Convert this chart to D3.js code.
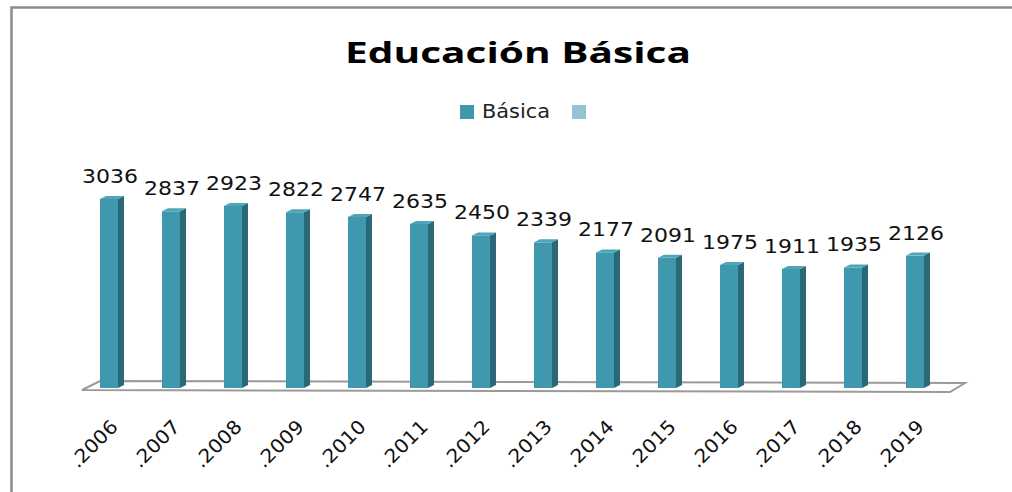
<!DOCTYPE html>
<html>
<head>
<meta charset="utf-8">
<script src="https://cdn.jsdelivr.net/npm/d3@7"></script>
<style>
  body { margin: 0; background: #fff; }
  svg { display: block; }
</style>
</head>
<body>
<div class="barChart"></div>
<script>
/* chart data */
const years = ["2006", "2007", "2008", "2009", "2010", "2011", "2012",
               "2013", "2014", "2015", "2016", "2017", "2018", "2019"];
const basica = [3036, 2837, 2923, 2822, 2747, 2635, 2450,
                2339, 2177, 2091, 1975, 1911, 1935, 2126];
const seriesNames = ["Básica", ""];
const seriesColors = ["#3f98ae", "#93c4d6"];

const width = 1012;
const height = 492;

/* 3d look of the bars */
const barW = 18;
const depthX = 6;
const depthY = 3;

const svg = d3.select(".barChart")
  .append("svg")
  .attr("width", width)
  .attr("height", height);

/* chart frame (only top and left edges are in view) */
svg.append("path")
  .attr("d", `M11.5,${height} L11.5,7.5 L${width},7.5`)
  .attr("fill", "none")
  .attr("stroke", "#8c8c8c")
  .attr("stroke-width", 2.5);

/* scales */
const xScale = d3.scalePoint()
  .domain(years)
  .range([109, 915]);

const yScale = d3.scaleLinear()
  .domain([0, 3500])
  .range([388, 170]);

/* floor */
const x0 = xScale.range()[0], x1 = xScale.range()[1];
const floorPts = [
  [x0 - 27, 390], [x0 - 9, 381], [x1 + 50, 383], [x1 + 35, 392]
];
svg.append("polygon")
  .attr("points", floorPts.map(p => p.join(",")).join(" "))
  .attr("fill", "#fff")
  .attr("stroke", "#9a9a9a")
  .attr("stroke-width", 2);

/* bars */
const data = years.map((y, i) => ({year: y, value: basica[i]}));
const base = yScale(0);

const bars = svg.append("g").selectAll("g")
  .data(data)
  .join("g");

bars.append("rect")
  .attr("x", d => xScale(d.year) - barW / 2)
  .attr("y", d => yScale(d.value))
  .attr("width", barW)
  .attr("height", d => base - yScale(d.value))
  .attr("fill", "#3f98ae");

bars.append("polygon")
  .attr("points", d => {
    const r = xScale(d.year) + barW / 2, t = yScale(d.value);
    return [[r, t], [r + depthX, t - depthY], [r + depthX, base - depthY], [r, base]]
      .map(p => p.join(",")).join(" ");
  })
  .attr("fill", "#2a6777");

bars.append("polygon")
  .attr("points", d => {
    const l = xScale(d.year) - barW / 2, r = l + barW, t = yScale(d.value);
    return [[l, t], [l + depthX, t - depthY], [r + depthX, t - depthY], [r, t]]
      .map(p => p.join(",")).join(" ");
  })
  .attr("fill", "#4ea6bb");

/* value labels (glyphs stretched wide like the original) */
svg.append("g").selectAll("text")
  .data(data)
  .join("text")
  .attr("x", d => xScale(d.year) + 1)
  .attr("y", d => yScale(d.value) - 16)
  .attr("text-anchor", "middle")
  .attr("textLength", 56)
  .attr("lengthAdjust", "spacingAndGlyphs")
  .style("font-family", "'DejaVu Sans', Verdana, sans-serif")
  .style("font-size", "19px")
  .attr("fill", "#111")
  .text(d => d.value);

/* x axis labels, rotated */
svg.append("g").selectAll("text")
  .data(years)
  .join("text")
  .attr("transform", d => `translate(${xScale(d) + 10},428) rotate(-45)`)
  .attr("text-anchor", "end")
  .attr("textLength", 58)
  .attr("lengthAdjust", "spacingAndGlyphs")
  .style("font-family", "'DejaVu Sans', Verdana, sans-serif")
  .style("font-size", "19px")
  .attr("fill", "#111")
  .text(d => "." + d);

/* title */
svg.append("text")
  .attr("x", 518)
  .attr("y", 63)
  .attr("text-anchor", "middle")
  .attr("textLength", 346)
  .attr("lengthAdjust", "spacingAndGlyphs")
  .style("font-family", "'Open Sans', sans-serif")
  .style("font-weight", "bold")
  .style("font-size", "29px")
  .attr("fill", "#000")
  .text("Educación Básica");

/* legend */
const legend = svg.append("g");
const legendX = [460, 572];
seriesNames.forEach((name, i) => {
  legend.append("rect")
    .attr("x", legendX[i])
    .attr("y", 105)
    .attr("width", 14)
    .attr("height", 14)
    .attr("fill", seriesColors[i]);
  if (name) {
    legend.append("text")
      .attr("x", legendX[i] + 22)
      .attr("y", 118)
      .attr("textLength", 68)
      .attr("lengthAdjust", "spacingAndGlyphs")
      .style("font-family", "'DejaVu Sans', Verdana, sans-serif")
      .style("font-size", "19px")
      .attr("fill", "#222")
      .text(name);
  }
});
</script>
</body>
</html>
